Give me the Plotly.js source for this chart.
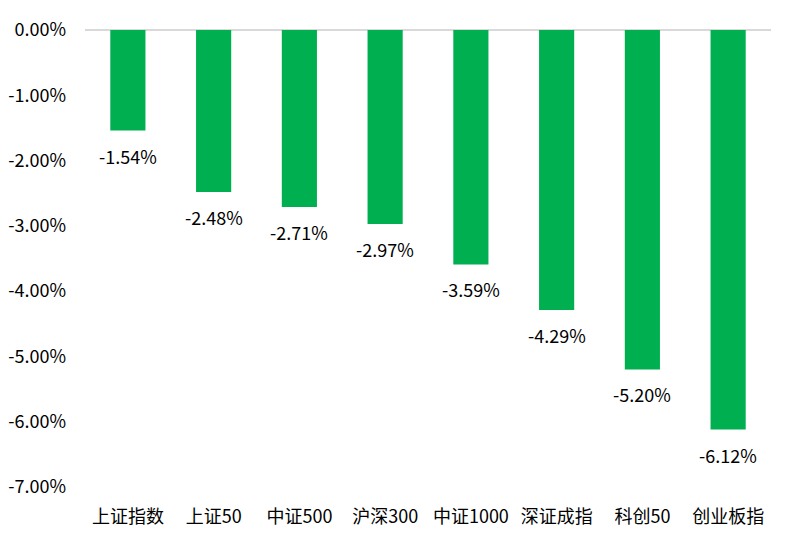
<!DOCTYPE html>
<html>
<head>
<meta charset="utf-8">
<script src="https://cdn.plot.ly/plotly-3.0.1.min.js"></script>
<style>html,body{margin:0;padding:0;background:#fff;}#chart{width:785px;height:546px;}</style>
</head>
<body>
<div id="chart"></div>
<script>
const categories = ["上证指数", "上证50", "中证500", "沪深300", "中证1000", "深证成指", "科创50", "创业板指"];
const values = [-1.54, -2.48, -2.71, -2.97, -3.59, -4.29, -5.20, -6.12];
const tickValues = [0, -1, -2, -3, -4, -5, -6, -7];
const tickLabels = ["0.00%", "-1.00%", "-2.00%", "-3.00%", "-4.00%", "-5.00%", "-6.00%", "-7.00%"];

const fontFamily = "'Noto Sans CJK SC', 'Noto Sans', sans-serif";

const trace = {
  type: "bar",
  x: categories,
  y: values,
  marker: { color: "#00B050" },
  hoverinfo: "none"
};

const annotations = categories.map((c, i) => ({
  x: c,
  y: values[i],
  xref: "x",
  yref: "y",
  text: values[i].toFixed(2) + "%",
  showarrow: false,
  yanchor: "top",
  yshift: -10,
  font: { family: fontFamily, size: 18, color: "#000" }
}));

const layout = {
  width: 785,
  height: 546,
  margin: { l: 85, r: 14, t: 30, b: 59 },
  paper_bgcolor: "#fff",
  plot_bgcolor: "#fff",
  bargap: 0.59,
  showlegend: false,
  font: { family: fontFamily, size: 18, color: "#000" },
  xaxis: {
    type: "category",
    showgrid: false,
    showline: false,
    zeroline: false,
    ticks: "",
    ticklabelstandoff: 17,
    tickfont: { family: fontFamily, size: 18, color: "#000" }
  },
  yaxis: {
    range: [-7, 0],
    tickvals: tickValues,
    ticktext: tickLabels,
    showgrid: false,
    showline: false,
    zeroline: true,
    zerolinecolor: "#d9d9d9",
    zerolinewidth: 1.5,
    ticks: "",
    ticklabelstandoff: 18,
    tickfont: { family: fontFamily, size: 18, color: "#000" },
    fixedrange: true
  },
  annotations: annotations
};

Plotly.newPlot("chart", [trace], layout, { displayModeBar: false, staticPlot: true });
</script>
</body>
</html>
